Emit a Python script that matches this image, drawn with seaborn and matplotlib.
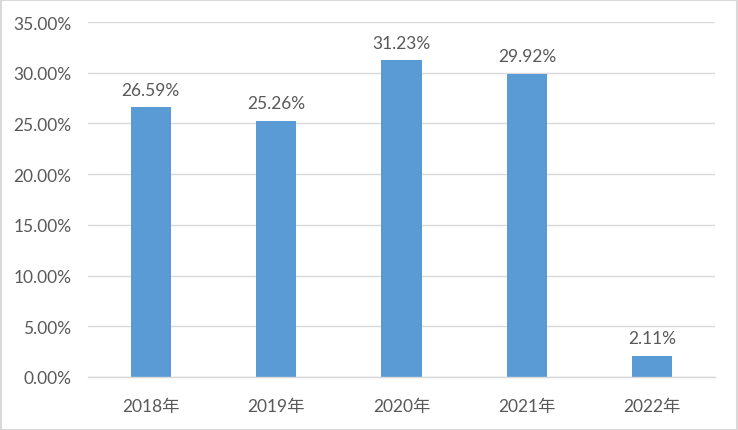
import matplotlib
matplotlib.use('Agg')
import matplotlib.pyplot as plt
import seaborn as sns
import pandas as pd
from matplotlib.patches import Rectangle
from matplotlib.ticker import FuncFormatter, MultipleLocator

years = ['2018年', '2019年', '2020年', '2021年', '2022年']
rates = [26.59, 25.26, 31.23, 29.92, 2.11]

sns.set_style('white')
plt.rcParams['font.family'] = ['Lato', 'Noto Sans CJK SC', 'DejaVu Sans']

text_color = '#595959'
grid_color = '#D9D9D9'
bar_color = '#5B9BD5'

df = pd.DataFrame({'year': years, 'rate': rates})

fig = plt.figure(figsize=(7.38, 4.31), dpi=100)
ax = fig.add_axes([88 / 738, 1 - 378 / 431, (715 - 88) / 738, (378 - 23) / 431])

sns.barplot(data=df, x='year', y='rate', color=bar_color, width=0.32,
            saturation=1, linewidth=0, ax=ax)

ax.set_ylim(0, 35)
ax.set_xlim(-0.5, len(years) - 0.5)
ax.yaxis.set_major_locator(MultipleLocator(5))
ax.yaxis.set_major_formatter(FuncFormatter(lambda v, p: f'{v:.2f}%'))
ax.grid(True, axis='y', color=grid_color, linewidth=1)
ax.set_axisbelow(True)
for s in ['top', 'right', 'left']:
    ax.spines[s].set_visible(False)
ax.spines['bottom'].set_color(grid_color)
ax.spines['bottom'].set_linewidth(1)
ax.tick_params(axis='both', length=0, labelsize=12.5, colors=text_color)
ax.tick_params(axis='y', pad=12)
ax.tick_params(axis='x', pad=15)
ax.set_xlabel('')
ax.set_ylabel('')

ax.bar_label(ax.containers[0], labels=[f'{v:.2f}%' for v in rates],
             padding=7, fontsize=12.5, color=text_color)

fig.patches.append(Rectangle((0.5 / 738, 0.5 / 431), 1 - 1.5 / 738, 1 - 1.5 / 431,
                             transform=fig.transFigure, fill=False,
                             edgecolor=grid_color, linewidth=1.5))

fig.savefig('out.png', dpi=100)
